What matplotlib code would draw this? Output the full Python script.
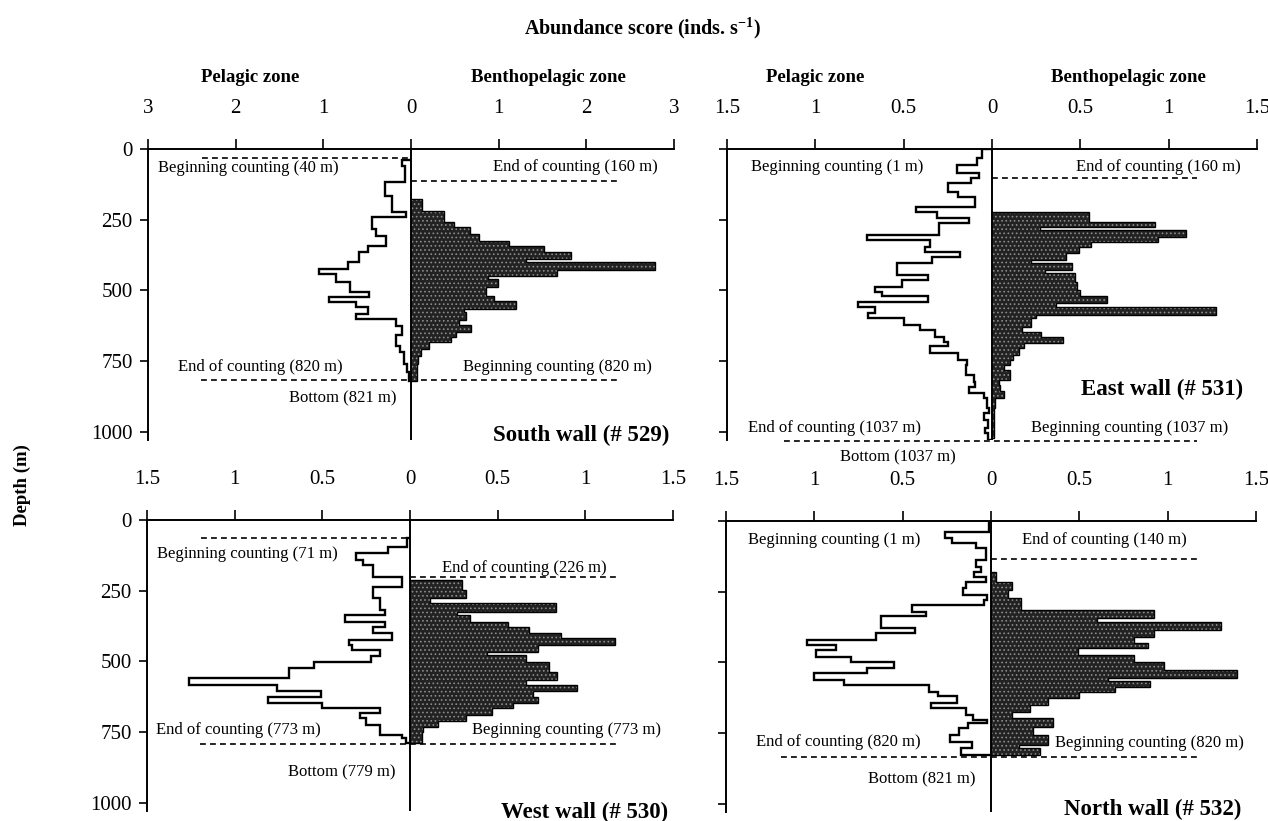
import numpy as np
import matplotlib.pyplot as plt

plt.rcParams['font.family'] = ['Liberation Serif', 'DejaVu Serif']
plt.rcParams['mathtext.fontset'] = 'custom'
plt.rcParams['mathtext.rm'] = 'Liberation Serif'
plt.rcParams['mathtext.bf'] = 'Liberation Serif:bold'
plt.rcParams['hatch.linewidth'] = 0.7

# depth bin edges (m) and abundance scores (inds. s-1)
south_pel_depth = [40, 60, 118, 165, 224, 242, 283, 307, 342, 366, 401, 425, 442, 472, 507, 525, 542, 560,
                   584, 601, 625, 660, 696, 719, 761, 790, 820]
south_pel_score = [0.10, 0.07, 0.30, 0.22, 0.06, 0.44, 0.40, 0.29, 0.49, 0.59, 0.72, 1.05, 0.86, 0.70, 0.48,
                   0.93, 0.63, 0.49, 0.63, 0.17, 0.10, 0.17, 0.13, 0.08, 0.04, 0.02]
south_ben_depth = [177, 218, 259, 277, 301, 324, 342, 363, 389, 401, 427, 448, 460, 489, 519, 537, 566, 578,
                   607, 623, 646, 666, 684, 708, 731, 761, 820]
south_ben_score = [0.13, 0.38, 0.49, 0.67, 0.78, 1.12, 1.52, 1.83, 1.31, 2.78, 1.67, 0.88, 0.99, 0.86, 0.95,
                   1.20, 0.61, 0.63, 0.55, 0.68, 0.51, 0.46, 0.21, 0.11, 0.08, 0.065]

east_pel_depth = [1, 33, 57, 86, 104, 121, 151, 169, 204, 222, 245, 263, 304, 322, 346, 363, 381, 404, 446,
                  463, 487, 505, 522, 540, 558, 581, 599, 623, 640, 664, 682, 699, 723, 746, 764, 800, 823,
                  841, 864, 882, 917, 935, 959, 988, 1006, 1030]
east_pel_score = [0.057, 0.085, 0.20, 0.076, 0.12, 0.25, 0.19, 0.095, 0.43, 0.31, 0.13, 0.30, 0.71, 0.35,
                  0.38, 0.18, 0.34, 0.54, 0.36, 0.51, 0.66, 0.625, 0.36, 0.76, 0.66, 0.70, 0.50, 0.41, 0.32,
                  0.27, 0.25, 0.35, 0.19, 0.14, 0.15, 0.10, 0.095, 0.13, 0.047, 0.028, 0.019, 0.047, 0.02,
                  0.038, 0.02]
east_ben_depth = [222, 257, 275, 287, 310, 328, 346, 369, 393, 404, 428, 440, 469, 499, 522, 546, 561, 587,
                  599, 629, 646, 664, 687, 705, 729, 746, 764, 782, 817, 835, 858, 882, 917, 1024]
east_ben_score = [0.55, 0.92, 0.27, 1.10, 0.94, 0.56, 0.49, 0.42, 0.22, 0.45, 0.30, 0.47, 0.48, 0.50, 0.65,
                  0.36, 1.27, 0.25, 0.22, 0.17, 0.28, 0.40, 0.18, 0.15, 0.12, 0.10, 0.066, 0.10, 0.038,
                  0.047, 0.066, 0.019, 0.012]

west_pel_depth = [62, 94, 118, 142, 159, 200, 236, 277, 318, 336, 360, 377, 401, 425, 442, 460, 483, 501,
                  525, 560, 584, 607, 625, 649, 666, 684, 702, 725, 761, 772, 790]
west_pel_score = [0.019, 0.124, 0.31, 0.27, 0.21, 0.048, 0.21, 0.17, 0.14, 0.37, 0.14, 0.21, 0.10, 0.35,
                  0.33, 0.17, 0.22, 0.55, 0.69, 1.26, 0.76, 0.51, 0.81, 0.50, 0.17, 0.285, 0.25, 0.17,
                  0.048, 0.02]
west_ben_depth = [212, 248, 277, 295, 324, 336, 360, 377, 401, 419, 442, 466, 478, 501, 537, 566, 584, 607,
                  625, 649, 666, 690, 713, 731, 749, 790]
west_ben_score = [0.295, 0.32, 0.114, 0.83, 0.27, 0.34, 0.56, 0.68, 0.86, 1.17, 0.73, 0.44, 0.66, 0.79,
                  0.84, 0.66, 0.95, 0.70, 0.73, 0.59, 0.47, 0.32, 0.16, 0.076, 0.067]

north_pel_depth = [1, 38, 61, 79, 97, 138, 162, 179, 197, 215, 238, 262, 279, 297, 321, 338, 380, 397, 421,
                   439, 456, 480, 498, 521, 539, 562, 580, 604, 621, 645, 663, 686, 704, 716, 733, 757, 781,
                   804, 828]
north_pel_score = [0.01, 0.26, 0.22, 0.085, 0.03, 0.085, 0.057, 0.095, 0.03, 0.14, 0.16, 0.02, 0.04, 0.45,
                   0.37, 0.62, 0.43, 0.65, 1.04, 0.88, 0.99, 0.79, 0.55, 0.70, 1.00, 0.83, 0.35, 0.30, 0.19,
                   0.34, 0.14, 0.10, 0.02, 0.13, 0.18, 0.23, 0.11, 0.17]
north_ben_depth = [179, 215, 244, 274, 315, 344, 356, 386, 409, 433, 450, 474, 498, 527, 557, 568, 586, 604,
                   627, 651, 675, 698, 728, 757, 792, 804, 828]
north_ben_score = [0.03, 0.12, 0.095, 0.17, 0.92, 0.60, 1.30, 0.92, 0.81, 0.89, 0.49, 0.81, 0.98, 1.39,
                   0.66, 0.90, 0.70, 0.50, 0.32, 0.22, 0.12, 0.35, 0.24, 0.32, 0.16, 0.28]

ticks_3 = [-3, -2, -1, 0, 1, 2, 3]
ticks_15 = [-1.5, -1, -0.5, 0, 0.5, 1, 1.5]
depth_ticks = [0, 250, 500, 750, 1000]

W, H = 1268, 821
fig = plt.figure(figsize=(W / 100, H / 100), dpi=100)


def rect(x0, y0, x1, y1):
    return [x0 / W, 1 - y1 / H, (x1 - x0) / W, (y1 - y0) / H]


def panel(r, xmax, ticks, pel_d, pel_s, ben_d, ben_s, ylab=True):
    ax = fig.add_axes(r)
    ax.set_xlim(-xmax, xmax)
    ax.set_ylim(1030, 0)
    # pelagic: white outlined steps to the left
    ax.stairs(-np.array(pel_s), pel_d, orientation='horizontal', baseline=0,
              fill=False, color='black', lw=1.7, zorder=3)
    # benthopelagic: dark stippled bars to the right
    ax.stairs(ben_s, ben_d, orientation='horizontal', baseline=0, fill=True,
              facecolor='#222222', edgecolor='#8c8c8c', hatch='....', lw=0, zorder=2)
    ax.stairs(ben_s, ben_d, orientation='horizontal', baseline=0,
              fill=False, color='black', lw=1.0, zorder=3)
    ax.axvline(0, color='black', lw=1.4, zorder=4)
    ax.xaxis.tick_top()
    ax.set_xticks(ticks)
    ax.set_xticklabels([f'{abs(t):g}' for t in ticks])
    ax.set_yticks(depth_ticks)
    if not ylab:
        ax.set_yticklabels([])
    for s in ['right', 'bottom']:
        ax.spines[s].set_visible(False)
    for s in ['left', 'top']:
        ax.spines[s].set_linewidth(1.4)
    ax.tick_params(axis='x', direction='out', length=7, width=1.2, pad=15, labelsize=15)
    ax.tick_params(axis='y', direction='out', length=6, width=1.2, pad=5, labelsize=15)
    return ax


def dash(ax, x0, x1, d):
    ax.plot([x0, x1], [d, d], color='black', lw=1.2, ls=(0, (3.5, 2.5)), zorder=1, clip_on=False)


def note(ax, x, d, s, bold=False):
    ax.text(x, d, s, ha='right', va='center', fontsize=16.5 if bold else 12,
            fontweight='bold' if bold else 'normal', clip_on=False)


# South wall
ax = panel(rect(148, 149, 674, 440), 3, ticks_3, south_pel_depth, south_pel_score,
           south_ben_depth, south_ben_score)
dash(ax, -2.38, 0, 31)
dash(ax, 0, 2.36, 114)
dash(ax, -2.4, 2.36, 817)
note(ax, -0.83, 68, 'Beginning counting (40 m)')
note(ax, 2.82, 63, 'End of counting (160 m)')
note(ax, -0.78, 770, 'End of counting (820 m)')
note(ax, 2.75, 770, 'Beginning counting (820 m)')
note(ax, -0.16, 884, 'Bottom (821 m)')
note(ax, 2.95, 1015, 'South wall (# 529)', bold=True)

# East wall
ax = panel(rect(727, 149, 1257, 440), 1.5, ticks_15, east_pel_depth, east_pel_score,
           east_ben_depth, east_ben_score, ylab=False)
dash(ax, 0, 1.16, 104)
dash(ax, -1.18, 1.16, 1033)
note(ax, -0.39, 62, 'Beginning counting (1 m)')
note(ax, 1.41, 62, 'End of counting (160 m)')
note(ax, -0.40, 987, 'End of counting (1037 m)')
note(ax, 1.34, 987, 'Beginning counting (1037 m)')
ax.text(-0.53, 1093, 'Bottom (1037 m)', ha='center', va='center', fontsize=12, clip_on=False)
note(ax, 1.42, 852, 'East wall (# 531)', bold=True)

# West wall
ax = panel(rect(147, 520, 673, 811), 1.5, ticks_15, west_pel_depth, west_pel_score,
           west_ben_depth, west_ben_score)
dash(ax, -1.19, 0, 62)
dash(ax, 0, 1.18, 202)
dash(ax, -1.2, 1.18, 792)
note(ax, -0.41, 120, 'Beginning counting (71 m)')
note(ax, 1.12, 170, 'End of counting (226 m)')
note(ax, -0.51, 743, 'End of counting (773 m)')
note(ax, 1.43, 743, 'Beginning counting (773 m)')
note(ax, -0.085, 895, 'Bottom (779 m)')
note(ax, 1.47, 1036, 'West wall (# 530)', bold=True)

# North wall
ax = panel(rect(726, 521, 1256, 812), 1.5, ticks_15, north_pel_depth, north_pel_score,
           north_ben_depth, north_ben_score, ylab=False)
dash(ax, 0, 1.18, 134)
dash(ax, -1.19, 1.18, 834)
note(ax, -0.40, 67, 'Beginning counting (1 m)')
note(ax, 1.11, 67, 'End of counting (140 m)')
note(ax, -0.40, 781, 'End of counting (820 m)')
note(ax, 1.43, 786, 'Beginning counting (820 m)')
note(ax, -0.085, 916, 'Bottom (821 m)')
note(ax, 1.42, 1022, 'North wall (# 532)', bold=True)

# zone labels and titles
for x, s in [(250, 'Pelagic zone'), (548, 'Benthopelagic zone'),
             (815, 'Pelagic zone'), (1128, 'Benthopelagic zone')]:
    fig.text(x / W, 1 - 78 / H, s, ha='center', va='center', fontsize=13.5, fontweight='bold')
fig.text(643 / W, 1 - 28 / H, r'Abundance score (inds. s$^{\mathbf{-1}}$)', ha='center', va='center',
         fontsize=14.5, fontweight='bold')
fig.text(22 / W, 1 - 485 / H, 'Depth (m)', ha='center', va='center', rotation=90,
         fontsize=13.5, fontweight='bold')

fig.savefig('out.png', dpi=100)
